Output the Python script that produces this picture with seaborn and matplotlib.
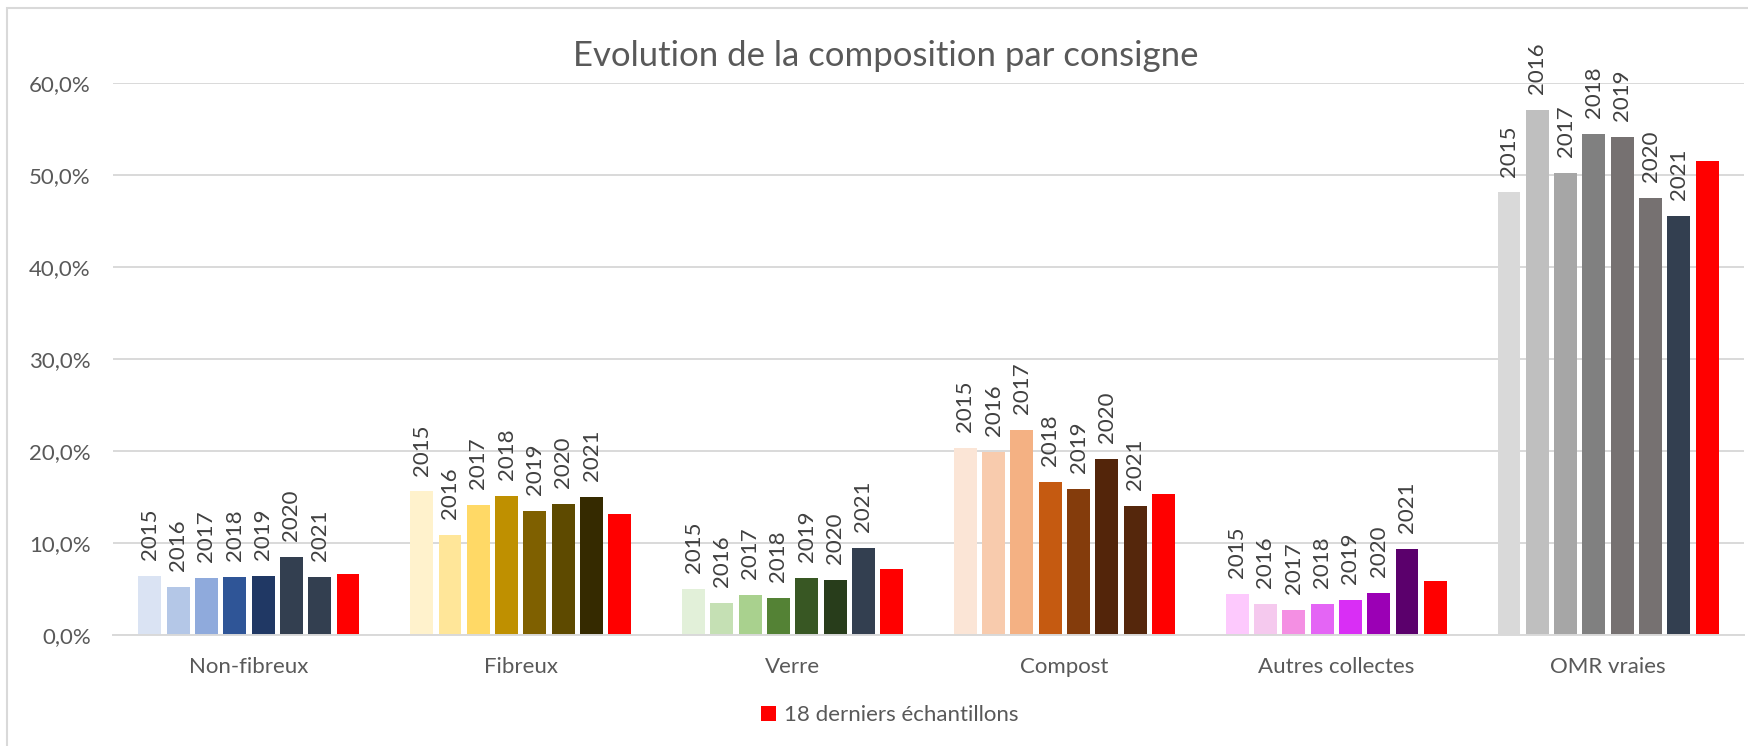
import pandas as pd
import seaborn as sns
import matplotlib.pyplot as plt
from matplotlib.patches import Patch, Rectangle
from matplotlib.ticker import FuncFormatter

categories = ["Non-fibreux", "Fibreux", "Verre", "Compost", "Autres collectes", "OMR vraies"]
series = ["2015", "2016", "2017", "2018", "2019", "2020", "2021", "18 derniers échantillons"]

# part (%) par consigne, une liste par série
v2015 = [6.4, 15.6, 5.0, 20.3, 4.5, 48.1]
v2016 = [5.2, 10.9, 3.5, 19.9, 3.4, 57.1]
v2017 = [6.2, 14.1, 4.35, 22.3, 2.7, 50.2]
v2018 = [6.3, 15.1, 4.0, 16.6, 3.4, 54.5]
v2019 = [6.4, 13.5, 6.2, 15.9, 3.8, 54.1]
v2020 = [8.5, 14.2, 6.0, 19.1, 4.6, 47.5]
v2021 = [6.3, 15.0, 9.45, 14.0, 9.3, 45.5]
v_last18 = [6.6, 13.2, 7.2, 15.3, 5.9, 51.5]

# couleurs des années, une palette par consigne
colors = {
    "Non-fibreux": ["#DAE3F3", "#B4C7E7", "#8FAADC", "#2F5597", "#203864", "#333F50", "#333F50"],
    "Fibreux": ["#FFF2CC", "#FFE699", "#FFD966", "#BF9000", "#7F6000", "#5E4A00", "#352A00"],
    "Verre": ["#E2F0D9", "#C5E0B4", "#A9D18E", "#548235", "#385723", "#283D1B", "#333F50"],
    "Compost": ["#FBE5D6", "#F8CBAD", "#F4B183", "#C55A11", "#843C0C", "#53250A", "#55270C"],
    "Autres collectes": ["#FDC9FD", "#F5C9EE", "#F48FE3", "#E465F5", "#D92EF5", "#9B00B5", "#5B006C"],
    "OMR vraies": ["#D9D9D9", "#BFBFBF", "#A6A6A6", "#808080", "#767171", "#767171", "#333F50"],
}
red = "#FF0000"


def make_df():
    vals = [v2015, v2016, v2017, v2018, v2019, v2020, v2021, v_last18]
    rows = []
    for s, v in zip(series, vals):
        for c, x in zip(categories, v):
            rows.append({"consigne": c, "serie": s, "part": x})
    return pd.DataFrame(rows)


def plot():
    df = make_df()
    sns.set_style("white")
    plt.rcParams['font.family'] = ['Lato', 'DejaVu Sans']

    fig = plt.figure(figsize=(17.49, 7.46), dpi=100)
    ax = fig.add_axes([113 / 1749, 1 - 635 / 746, 1631 / 1749, 552 / 746])

    sns.barplot(data=df, x='consigne', y='part', hue='serie', order=categories, hue_order=series,
                width=0.833, gap=0.19, legend=False, ax=ax)

    for i, cont in enumerate(ax.containers):
        for j, bar in enumerate(cont):
            bar.set_facecolor(red if i == 7 else colors[categories[j]][i])
            bar.set_edgecolor('none')
            bar.set_linewidth(0)
        if i < 7:
            ax.bar_label(cont, labels=[series[i]] * len(categories), rotation=90, padding=11.5,
                         fontsize=16, color='#404040')

    ax.set_ylim(0, 60)
    ax.set_xlim(-0.5, 5.5)
    ax.set_yticks(range(0, 61, 10))
    ax.yaxis.set_major_formatter(FuncFormatter(lambda v, p: f"{v:.1f}%".replace('.', ',')))
    ax.set(xlabel=None, ylabel=None)
    ax.yaxis.grid(True, color='#D9D9D9', lw=1.4)
    ax.set_axisbelow(True)
    for s in ['left', 'right', 'top']:
        ax.spines[s].set_visible(False)
    ax.spines['bottom'].set_color('#D9D9D9')
    ax.spines['bottom'].set_linewidth(1.4)
    ax.tick_params(axis='y', length=0, pad=16, labelsize=16, labelcolor='#595959')
    ax.tick_params(axis='x', length=0, pad=16, labelsize=16, labelcolor='#595959')

    fig.text(886 / 1749, 1 - 66 / 746, "Evolution de la composition par consigne",
             ha='center', va='baseline', fontsize=25, color='#595959')

    handle = Patch(facecolor=red, edgecolor='none')
    fig.legend(handles=[handle], labels=[series[-1]], loc='center', bbox_to_anchor=(890 / 1749, 1 - 715 / 746),
               frameon=False, fontsize=16, handlelength=0.65, handleheight=0.65, handletextpad=0.4,
               labelcolor='#595959')

    fig.patches.append(Rectangle((7 / 1749, -0.1), 1.2, 1 + 0.1 - 8 / 746, transform=fig.transFigure,
                                 fill=False, edgecolor='#D9D9D9', lw=1.5))

    plt.savefig('out.png', dpi=100)


if __name__ == '__main__':
    plot()
